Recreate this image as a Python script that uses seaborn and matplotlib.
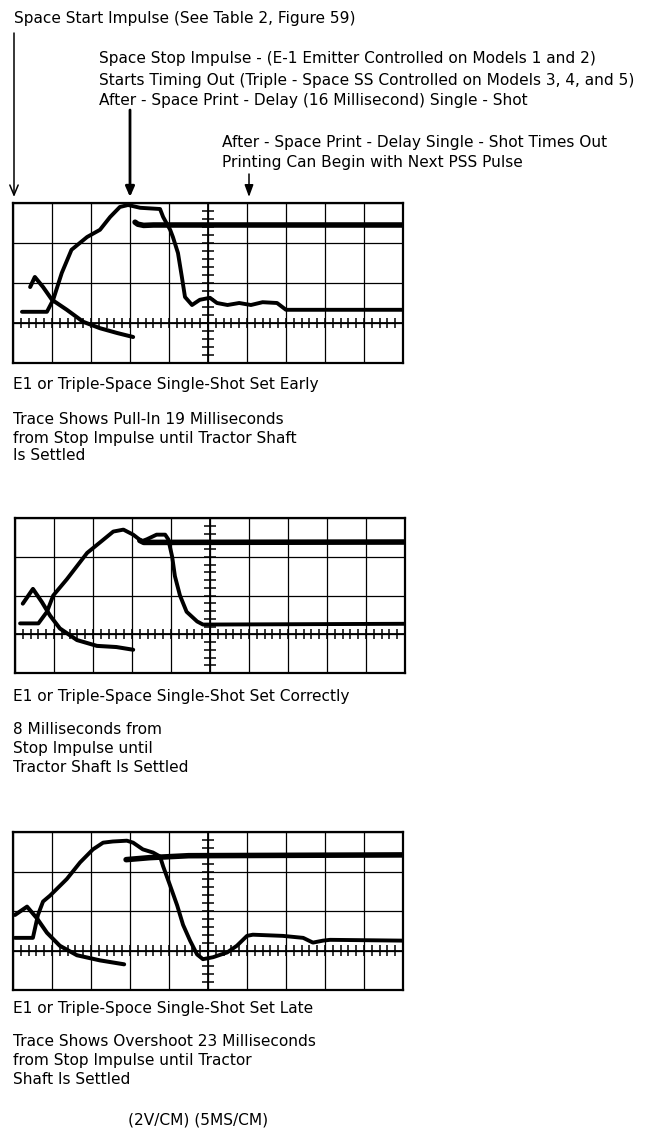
import numpy as np
import pandas as pd
import matplotlib
matplotlib.use("Agg")
import matplotlib.pyplot as plt
import seaborn as sns

# ---------------- data (scope divisions: x 0..10, y -1..3) ----------------
p1_rise_x = [0.23, 0.87, 1.03, 1.25, 1.5, 1.9, 2.23, 2.49, 2.74, 2.95, 3.26, 3.77, 3.85, 4.03, 4.1, 4.23,
             4.33, 4.41, 4.59, 4.79, 5.05, 5.23, 5.5, 5.8, 6.1, 6.4, 6.77, 7.0, 10.0]
p1_rise_y = [0.28, 0.28, 0.58, 1.25, 1.83, 2.15, 2.33, 2.65, 2.9, 2.95, 2.88, 2.85, 2.65, 2.33, 2.15, 1.75,
             1.15, 0.65, 0.45, 0.58, 0.63, 0.5, 0.45, 0.5, 0.45, 0.52, 0.5, 0.33, 0.33]
p1_decay_x = [0.44, 0.56, 0.77, 1.0, 1.38, 1.8, 2.23, 2.67, 3.08]
p1_decay_y = [0.9, 1.15, 0.9, 0.58, 0.33, 0.03, -0.13, -0.25, -0.35]
p1_flat_x = [3.13, 3.2, 3.35, 3.6, 10.0]
p1_flat_y = [2.52, 2.47, 2.44, 2.45, 2.45]

p2_rise_x = [0.13, 0.6, 0.82, 0.98, 1.33, 1.85, 2.18, 2.52, 2.78, 3.03, 3.25, 3.38, 3.63, 3.85, 3.93,
             4.03, 4.1, 4.23, 4.4, 4.67, 4.82, 10.0]
p2_rise_y = [0.28, 0.28, 0.58, 1.0, 1.42, 2.1, 2.37, 2.65, 2.7, 2.57, 2.4, 2.45, 2.57, 2.57, 2.45,
             2.0, 1.5, 1.0, 0.58, 0.33, 0.25, 0.27]
p2_decay_x = [0.2, 0.46, 0.69, 0.9, 1.15, 1.59, 2.1, 2.6, 3.03]
p2_decay_y = [0.79, 1.17, 0.83, 0.48, 0.15, -0.15, -0.3, -0.33, -0.4]
p2_flat_x = [3.2, 3.3, 3.5, 10.0]
p2_flat_y = [2.42, 2.37, 2.37, 2.38]

p3_rise_x = [0.05, 0.51, 0.64, 0.77, 0.95, 1.38, 1.72, 2.05, 2.31, 2.56, 2.92, 3.08, 3.33, 3.59, 3.77,
             3.85, 4.03, 4.21, 4.36, 4.54, 4.72, 4.87, 5.13, 5.49, 5.74, 6.0, 6.15, 6.92, 7.44, 7.69,
             7.95, 8.13, 10.0]
p3_rise_y = [0.32, 0.32, 0.9, 1.24, 1.39, 1.81, 2.23, 2.56, 2.73, 2.76, 2.78, 2.73, 2.56, 2.48, 2.38,
             2.13, 1.64, 1.14, 0.65, 0.25, -0.1, -0.22, -0.17, -0.05, 0.12, 0.37, 0.4, 0.37, 0.32, 0.2,
             0.25, 0.27, 0.25]
p3_decay_x = [0.05, 0.36, 0.61, 0.87, 1.2, 1.64, 2.23, 2.85]
p3_decay_y = [0.9, 1.11, 0.82, 0.45, 0.12, -0.12, -0.25, -0.35]
p3_flat_x = [2.9, 3.5, 4.5, 10.0]
p3_flat_y = [2.3, 2.35, 2.4, 2.42]

header_texts = [
    "Space Start Impulse (See Table 2, Figure 59)",
    "Space Stop Impulse - (E-1 Emitter Controlled on Models 1 and 2)",
    "Starts Timing Out (Triple - Space SS Controlled on Models 3, 4, and 5)",
    "After - Space Print - Delay (16 Millisecond) Single - Shot",
    "After - Space Print - Delay Single - Shot Times Out",
    "Printing Can Begin with Next PSS Pulse",
]
captions = [
    ["E1 or Triple-Space Single-Shot Set Early", "Trace Shows Pull-In 19 Milliseconds",
     "from Stop Impulse until Tractor Shaft", "Is Settled"],
    ["E1 or Triple-Space Single-Shot Set Correctly", "8 Milliseconds from",
     "Stop Impulse until", "Tractor Shaft Is Settled"],
    ["E1 or Triple-Spoce Single-Shot Set Late", "Trace Shows Overshoot 23 Milliseconds",
     "from Stop Impulse until Tractor", "Shaft Is Settled"],
]
footer = "(2V/CM) (5MS/CM)"

# ---------------- figure ----------------
sns.set_theme(style="white")
plt.rcParams["font.family"] = ["DejaVu Sans"]
W, H = 657, 1130
fig = plt.figure(figsize=(W / 100, H / 100), dpi=100)
fig.patch.set_facecolor("white")

ov = fig.add_axes([0, 0, 1, 1])
ov.set_xlim(0, W)
ov.set_ylim(H, 0)
ov.axis("off")

FS = 11.1
def txt(x, y, s):
    ov.text(x, y, s, fontsize=FS, color="black", va="center", ha="left")

txt(14, 18, header_texts[0])
txt(99, 59, header_texts[1])
txt(99, 80, header_texts[2])
txt(99, 100, header_texts[3])
txt(222, 142, header_texts[4])
txt(222, 162, header_texts[5])

def arrow(x, y0, y1, lw, style):
    ov.annotate("", xy=(x, y1), xytext=(x, y0),
                arrowprops=dict(arrowstyle=style, lw=lw, color="black", shrinkA=0, shrinkB=0))

arrow(14, 33, 197, 1.1, "->,head_length=0.6,head_width=0.25")
arrow(130, 110, 197, 2.0, "-|>,head_length=0.5,head_width=0.22")
arrow(249, 174, 197, 1.1, "-|>,head_length=0.6,head_width=0.22")

panels = [
    dict(box=(13, 203, 403, 363), rise=(p1_rise_x, p1_rise_y), decay=(p1_decay_x, p1_decay_y),
         flat=(p1_flat_x, p1_flat_y), cap_y=[385, 420, 438, 456]),
    dict(box=(15, 518, 405, 673), rise=(p2_rise_x, p2_rise_y), decay=(p2_decay_x, p2_decay_y),
         flat=(p2_flat_x, p2_flat_y), cap_y=[696, 730, 748, 767]),
    dict(box=(13, 832, 403, 990), rise=(p3_rise_x, p3_rise_y), decay=(p3_decay_x, p3_decay_y),
         flat=(p3_flat_x, p3_flat_y), cap_y=[1008, 1042, 1060, 1079]),
]

for i, p in enumerate(panels):
    x0, y0, x1, y1 = p["box"]
    ax = fig.add_axes([x0 / W, 1 - y1 / H, (x1 - x0) / W, (y1 - y0) / H])
    ax.set_xlim(0, 10)
    ax.set_ylim(-1, 3)
    ax.set_xticks(np.arange(0, 11))
    ax.set_yticks(np.arange(-1, 4))
    ax.grid(True, color="black", lw=0.9)
    ax.tick_params(length=0, labelbottom=False, labelleft=False)
    for s in ax.spines.values():
        s.set_color("black")
        s.set_linewidth(1.6)
    ax.set_facecolor("white")
    ax.axhline(0, color="black", lw=1.3)
    ax.axvline(5, color="black", lw=1.3)
    mx = np.arange(0, 10.01, 0.2)
    ax.vlines(mx, -0.13, 0.13, color="black", lw=1.1)
    my = np.arange(-1, 3.01, 0.2)
    ax.hlines(my, 4.85, 5.15, color="black", lw=1.1)

    for key, lw in (("rise", 2.8), ("decay", 2.9), ("flat", 4.0)):
        xs, ys = p[key]
        df = pd.DataFrame({"x": xs, "y": ys})
        sns.lineplot(data=df, x="x", y="y", ax=ax, sort=False, estimator=None,
                     color="black", lw=lw, solid_joinstyle="round", solid_capstyle="round")
    ax.set_xlabel("")
    ax.set_ylabel("")

    for j, line in enumerate(captions[i]):
        txt(13, p["cap_y"][j], line)

ov.text(128, 1120, footer, fontsize=FS, color="black", va="center", ha="left")

fig.savefig("out.png", dpi=100, facecolor="white")
